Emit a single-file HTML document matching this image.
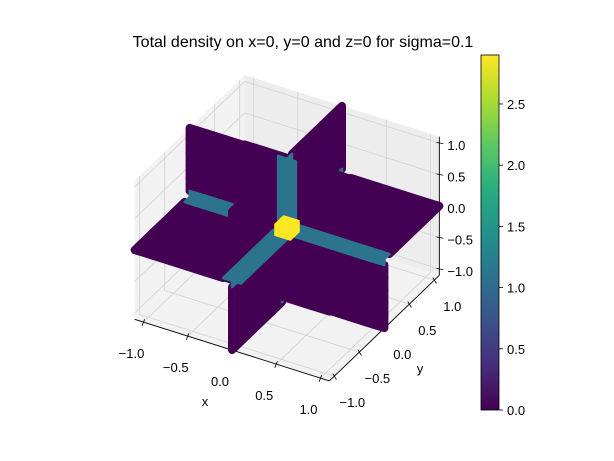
<!DOCTYPE html>
<html><head><meta charset="utf-8"><style>
html,body{margin:0;padding:0;background:#fff;}
svg{display:block;font-family:"Liberation Sans",sans-serif;}
</style></head><body>
<svg id="chart" width="614" height="461" viewBox="0 0 614 461" xmlns="http://www.w3.org/2000/svg">
<defs>
<linearGradient id="viridis" x1="0" y1="1" x2="0" y2="0">
<stop offset="0" stop-color="#440154"/><stop offset="0.125" stop-color="#472d7b"/>
<stop offset="0.25" stop-color="#3b528b"/><stop offset="0.375" stop-color="#2c728e"/>
<stop offset="0.5" stop-color="#21918c"/><stop offset="0.625" stop-color="#28ae80"/>
<stop offset="0.75" stop-color="#5ec962"/><stop offset="0.875" stop-color="#addc30"/>
<stop offset="1" stop-color="#fde725"/></linearGradient>
</defs>
<text x="303" y="47" font-size="16" text-anchor="middle" fill="#000">Total density on x=0, y=0 and z=0 for sigma=0.1</text>
<g id="panes"></g>
<g id="grid"></g>
<g id="axes"></g>
<g id="cells"></g>
<g id="cbar"></g>
</svg>
<script>
// ---- data ----
const gridCoords = [-1.0,-0.8,-0.6,-0.4,-0.2,0.0,0.2,0.4,0.6,0.8,1.0];
const densityLevels = [0.0, 1.1, 2.9]; // density: plane, line, origin
const xTicks = [-1.0,-0.5,0.0,0.5,1.0];
const yTicks = [-1.0,-0.5,0.0,0.5,1.0];
const zTicks = [-1.0,-0.5,0.0,0.5,1.0];
const cbarTicks = [0.0,0.5,1.0,1.5,2.0,2.5];
const vmin = 0, vmax = 2.9;

const NS = "http://www.w3.org/2000/svg";
const L = 1.1;
function proj(x,y,z){ return [287 + 88.5*x + 50*y, 228 + 28*x - 48*y - 63*z]; }
const eye = [0.433,-0.75,0.5];
const vir = ["#440154","#472d7b","#3b528b","#2c728e","#21918c","#28ae80","#5ec962","#addc30","#fde725"];
function hex(h){return [1,3,5].map(i=>parseInt(h.substr(i,2),16));}
function cmap(v){
  let t=Math.max(0,Math.min(1,(v-vmin)/(vmax-vmin)))*8;
  let i=Math.min(7,Math.floor(t)),f=t-i;
  let a=hex(vir[i]),b=hex(vir[i+1]);
  return "rgb("+a.map((c,k)=>Math.round(c+(b[k]-c)*f)).join(",")+")";
}
function el(tag,attrs,parent){const e=document.createElementNS(NS,tag);for(const k in attrs)e.setAttribute(k,attrs[k]);parent.appendChild(e);return e;}
function pts(arr){return arr.map(p=>{const q=proj(...p);return q[0].toFixed(1)+","+q[1].toFixed(1);}).join(" ");}

// panes
const panes=document.getElementById('panes');
let p1=el('polygon',{points:pts([[-L,-L,-L],[-L,L,-L],[-L,L,L],[-L,-L,L]]),fill:'#f2f2f2'},panes);


let p2=el('polygon',{points:pts([[-L,L,-L],[L,L,-L],[L,L,L],[-L,L,L]]),fill:'#ededed'},panes);


let p3=el('polygon',{points:pts([[-L,-L,-L],[L,-L,-L],[L,L,-L],[-L,L,-L]]),fill:'#f2f2f2'},panes);



// grid lines
const grid=document.getElementById('grid');
function gl(a,b){const l=el('line',{x1:proj(...a)[0],y1:proj(...a)[1],x2:proj(...b)[0],y2:proj(...b)[1],stroke:'#d2d2d2','stroke-width':0.8},grid);

}
xTicks.forEach(t=>{gl([t,-L,-L],[t,L,-L]);gl([t,L,-L],[t,L,L]);});
yTicks.forEach(t=>{gl([-L,t,-L],[L,t,-L]);gl([-L,t,-L],[-L,t,L]);});
zTicks.forEach(t=>{gl([-L,-L,t],[-L,L,t]);gl([-L,L,t],[L,L,t]);});

// axes
const axes=document.getElementById('axes');
function axl(a,b,name){const A=proj(...a),B=proj(...b);const l=el('line',{x1:A[0],y1:A[1],x2:B[0],y2:B[1],stroke:'#000','stroke-width':0.9},axes);

}
axl([-L,-L,-L],[L,-L,-L],'x-axis-line');
axl([L,-L,-L],[L,L,-L],'y-axis-line');
axl([L,L,-L],[L,L,L],'z-axis-line');
function tick(p,dx,dy,lab,lx,ly,anchor,name){
  const q=proj(...p);const n=Math.hypot(dx,dy);
  el('line',{x1:q[0]-dx/n*3,y1:q[1]-dy/n*3,x2:q[0]+dx/n*4,y2:q[1]+dy/n*4,stroke:'#000','stroke-width':0.8},axes);
  const t=el('text',{x:q[0]+lx,y:q[1]+ly,'font-size':13,'text-anchor':anchor,fill:'#000'},axes);
  t.textContent=lab;
  
  
}
function fmt(v){return (v<0?"\u2212":"")+Math.abs(v).toFixed(1);}
xTicks.forEach(t=>tick([t,-L,-L],-12,31,fmt(t),-12,36,'middle','x-tick-label'));
yTicks.forEach(t=>tick([L,t,-L],16,26,fmt(t),18,31,'middle','y-tick-label'));
zTicks.forEach(t=>tick([L,L,t],10,2,fmt(t),8,7,'start','z-tick-label'));
let xl=el('text',{x:205,y:406,'font-size':13,'text-anchor':'middle'},axes);xl.textContent='x';


let yl=el('text',{x:420,y:373,'font-size':13,'text-anchor':'middle'},axes);yl.textContent='y';



// density cells on three planes
const cellsG=document.getElementById('cells');
const cells=[];
const h=0.1;
gridCoords.forEach(a=>gridCoords.forEach(b=>{
  const defs=[
    {c:[0,a,b],q:[[0,a-h,b-h],[0,a+h,b-h],[0,a+h,b+h],[0,a-h,b+h]]},
    {c:[a,0,b],q:[[a-h,0,b-h],[a+h,0,b-h],[a+h,0,b+h],[a-h,0,b+h]]},
    {c:[a,b,0],q:[[a-h,b-h,0],[a+h,b-h,0],[a+h,b+h,0],[a-h,b+h,0]]}];
  defs.forEach(d=>{
    const zeros=d.c.filter(v=>Math.abs(v)<1e-9).length-1;
    const val=densityLevels[zeros];
    let depth=d.c[0]*eye[0]+d.c[1]*eye[1]+d.c[2]*eye[2];
    const edge=(Math.abs(a)>0.99||Math.abs(b)>0.99);
    const hiddenLine = zeros===1 && (d.c[1]>0.01 || d.c[2]<-0.01 || d.c[0]<-0.01);
    if(zeros===1) depth+=0.25;
    const layer = zeros===2 ? 2 : (zeros===1 && !hiddenLine ? 1 : 0);
    cells.push({q:d.q,val,depth,edge,zeros,layer});
  });
}));
cells.sort((u,v)=>u.layer-v.layer || u.depth-v.depth);
cells.forEach(c=>{
  const col=cmap(c.val);
  if(c.zeros===2) return;
  const sw=(c.edge && c.zeros===0)?8:2.5;
  const p=el('polygon',{points:pts(c.q),fill:col,stroke:col,'stroke-width':sw,'stroke-linejoin':'round'},cellsG);
  
  
});
// origin cube (highest density) drawn as the projected hexagon silhouette of a small cube
(function(){
  const s=0.085;
  const hexPts=[[s,s,s],[-s,s,s],[-s,-s,s],[-s,-s,-s],[s,-s,-s],[s,s,-s]];
  const c=el('polygon',{points:pts(hexPts),fill:cmap(densityLevels[2]),stroke:cmap(densityLevels[2]),'stroke-width':2,'stroke-linejoin':'round'},cellsG);
  
  
})();

// colorbar
const cb=document.getElementById('cbar');
const cbX=481,cbW=18,cbTop=55,cbBot=410;
function cy(v){return cbBot-(v-vmin)/(vmax-vmin)*(cbBot-cbTop);}
let r=el('rect',{x:cbX,y:cbTop,width:cbW,height:cbBot-cbTop,fill:'url(#viridis)',stroke:'#000','stroke-width':0.8},cb);


cbarTicks.forEach(v=>{
  const y=cy(v);
  el('line',{x1:cbX+cbW,y1:y,x2:cbX+cbW+4,y2:y,stroke:'#000','stroke-width':0.8},cb);
  const t=el('text',{x:cbX+cbW+8,y:y+5,'font-size':13,fill:'#000'},cb);
  t.textContent=v.toFixed(1);
  
  
});
</script>
</body></html>
